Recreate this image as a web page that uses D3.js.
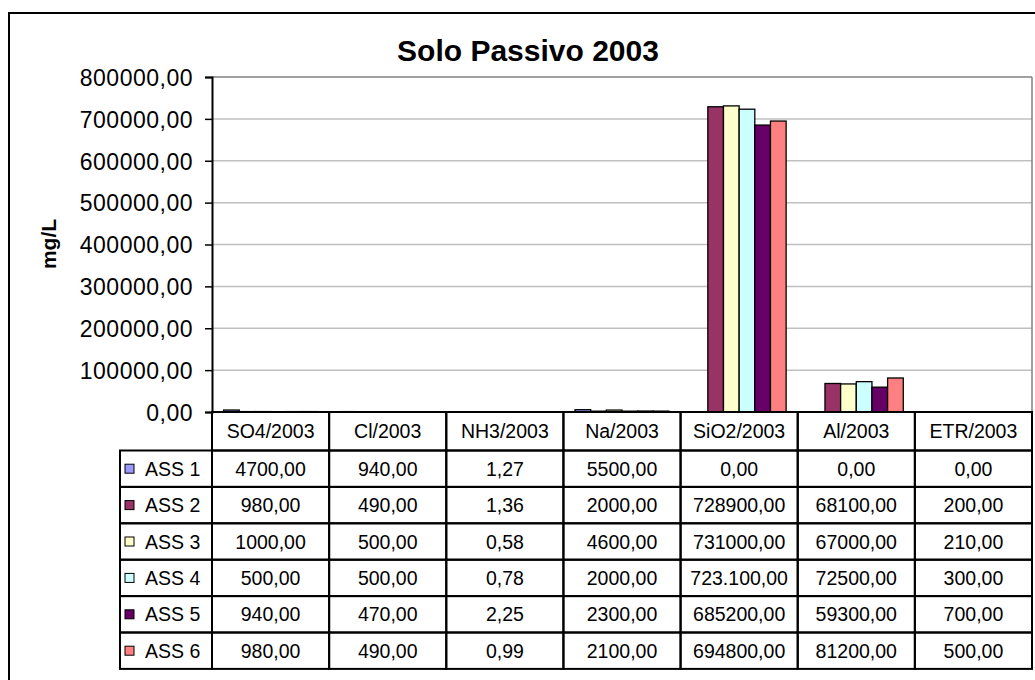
<!DOCTYPE html>
<html>
<head>
<meta charset="utf-8">
<script src="https://cdn.jsdelivr.net/npm/d3@7"></script>
<style>
  body { margin: 0; background: #fff; }
  text { font-family: "Liberation Sans", Arial, sans-serif; fill: #000; }
</style>
</head>
<body>
<div id="chart"></div>
<script>
// data
const categories = ["SO4/2003", "Cl/2003", "NH3/2003", "Na/2003", "SiO2/2003", "Al/2003", "ETR/2003"];
const seriesNames = ["ASS 1", "ASS 2", "ASS 3", "ASS 4", "ASS 5", "ASS 6"];
const ass1 = [4700, 940, 1.27, 5500, 0, 0, 0];
const ass2 = [980, 490, 1.36, 2000, 728900, 68100, 200];
const ass3 = [1000, 500, 0.58, 4600, 731000, 67000, 210];
const ass4 = [500, 500, 0.78, 2000, 723100, 72500, 300];
const ass5 = [940, 470, 2.25, 2300, 685200, 59300, 700];
const ass6 = [980, 490, 0.99, 2100, 694800, 81200, 500];
const yTicks = [0, 100000, 200000, 300000, 400000, 500000, 600000, 700000, 800000];
// one cell is written differently in the source table
const cellTextOverride = { "ASS 4|SiO2/2003": "723.100,00" };
const colors = ["#9999FF", "#993366", "#FFFFCC", "#CCFFFF", "#660066", "#FF8080"];

const series = seriesNames.map((name, i) => ({
  name: name,
  color: colors[i],
  values: [ass1, ass2, ass3, ass4, ass5, ass6][i]
}));

const W = 1035, H = 680;
const margin = { top: 77, left: 212, right: 3, bottom: 268 };
const plotW = W - margin.left - margin.right;
const plotH = H - margin.top - margin.bottom;

const locale = d3.formatLocale({ decimal: ",", thousands: ".", grouping: [3], currency: ["", ""] });
const fmt = locale.format(".2f");

const svg = d3.select("#chart")
  .append("svg")
    .attr("width", W)
    .attr("height", H);

// outer chart border (runs off the right and bottom of the picture)
svg.append("rect")
  .attr("x", 9).attr("y", 13)
  .attr("width", W).attr("height", H)
  .attr("fill", "none")
  .attr("stroke", "#000")
  .attr("stroke-width", 2);

const g = svg.append("g")
  .attr("transform", "translate(" + margin.left + "," + margin.top + ")");

const x0 = d3.scaleBand().domain(categories).range([0, plotW]).padding(0);
const x1 = d3.scaleBand().domain(seriesNames).range([0, x0.bandwidth()]).paddingInner(0).paddingOuter(0.74);
const y = d3.scaleLinear().domain([0, 800000]).range([plotH, 0]);

// gridlines
g.append("g")
  .selectAll("line")
  .data(yTicks.slice(1))
  .join("line")
    .attr("x1", 0).attr("x2", plotW)
    .attr("y1", d => y(d)).attr("y2", d => y(d))
    .attr("stroke", d => d === 800000 ? "#808080" : "#c0c0c0")
    .attr("stroke-width", 1.5);

// right border of plot area
g.append("line")
  .attr("x1", plotW).attr("x2", plotW)
  .attr("y1", 0).attr("y2", plotH)
  .attr("stroke", "#808080")
  .attr("stroke-width", 1.5);

// bars
const groups = g.append("g")
  .selectAll("g")
  .data(series)
  .join("g")
    .attr("fill", d => d.color);

groups.selectAll("rect")
  .data(d => d.values.map((v, i) => ({ name: d.name, cat: categories[i], value: v })))
  .join("rect")
    .filter(d => d.value > 0)
    .attr("x", d => x0(d.cat) + x1(d.name))
    .attr("y", d => y(d.value))
    .attr("width", x1.bandwidth())
    .attr("height", d => plotH - y(d.value))
    .attr("stroke", "#000")
    .attr("stroke-width", 1.3);

// y axis
const yAxis = d3.axisLeft(y)
  .tickValues(yTicks)
  .tickSize(7)
  .tickFormat(d => fmt(d).replace(/\./g, ""));

const ya = g.append("g").call(yAxis);
ya.select(".domain").attr("stroke", "#000").attr("stroke-width", 2);
ya.selectAll(".tick line").attr("stroke", "#000").attr("stroke-width", 1.5);
ya.selectAll(".tick text")
  .attr("x", -19)
  .attr("dy", "0.36em")
  .style("font-size", "23px")
  .style("letter-spacing", "0.5px")
  .style("font-family", "'Liberation Sans', Arial, sans-serif")
  .attr("fill", "#000");

// title
svg.append("text")
  .attr("x", 528)
  .attr("y", 61)
  .attr("text-anchor", "middle")
  .style("font-size", "30px")
  .style("font-weight", "bold")
  .text("Solo Passivo 2003");

// y label
svg.append("text")
  .attr("transform", "translate(56,244) rotate(-90)")
  .attr("text-anchor", "middle")
  .style("font-size", "21px")
  .style("font-weight", "bold")
  .text("mg/L");

// data table
const tableTop = margin.top + plotH;
const headerH = 38.5;
const rowH = 36.4;
const legendLeft = 120;
const tbl = svg.append("g").attr("class", "table");

// header cells
tbl.selectAll("rect.head")
  .data(categories)
  .join("rect")
    .attr("class", "head")
    .attr("x", d => margin.left + x0(d))
    .attr("y", tableTop)
    .attr("width", x0.bandwidth())
    .attr("height", headerH)
    .attr("fill", "none")
    .attr("stroke", "#000")
    .attr("stroke-width", 2);

tbl.selectAll("text.head")
  .data(categories)
  .join("text")
    .attr("class", "head")
    .attr("x", d => margin.left + x0(d) + x0.bandwidth() / 2)
    .attr("y", tableTop + headerH / 2)
    .attr("dy", "0.36em")
    .attr("text-anchor", "middle")
    .style("font-size", "19.5px")
    .text(d => d);

const rows = tbl.selectAll("g.row")
  .data(series)
  .join("g")
    .attr("class", "row")
    .attr("transform", (d, i) => "translate(0," + (tableTop + headerH + i * rowH) + ")");

// legend cell
rows.append("rect")
  .attr("x", legendLeft)
  .attr("y", 0)
  .attr("width", margin.left - legendLeft)
  .attr("height", rowH)
  .attr("fill", "none")
  .attr("stroke", "#000")
  .attr("stroke-width", 2);

rows.append("rect")
  .attr("x", 125)
  .attr("y", rowH / 2 - 4.5)
  .attr("width", 9)
  .attr("height", 9)
  .attr("fill", d => d.color)
  .attr("stroke", "#000")
  .attr("stroke-width", 1);

rows.append("text")
  .attr("x", 145)
  .attr("y", rowH / 2)
  .attr("dy", "0.36em")
  .style("font-size", "19.5px")
  .text(d => d.name);

// value cells
rows.selectAll("rect.cell")
  .data(d => d.values.map((v, i) => ({ name: d.name, cat: categories[i], value: v })))
  .join("rect")
    .attr("class", "cell")
    .attr("x", d => margin.left + x0(d.cat))
    .attr("y", 0)
    .attr("width", x0.bandwidth())
    .attr("height", rowH)
    .attr("fill", "none")
    .attr("stroke", "#000")
    .attr("stroke-width", 2);

rows.selectAll("text.cell")
  .data(d => d.values.map((v, i) => ({ name: d.name, cat: categories[i], value: v })))
  .join("text")
    .attr("class", "cell")
    .attr("x", d => margin.left + x0(d.cat) + x0.bandwidth() / 2)
    .attr("y", rowH / 2)
    .attr("dy", "0.36em")
    .attr("text-anchor", "middle")
    .style("font-size", "19.5px")
    .text(d => cellTextOverride[d.name + "|" + d.cat] || fmt(d.value).replace(/\./g, ""));
</script>
</body>
</html>
